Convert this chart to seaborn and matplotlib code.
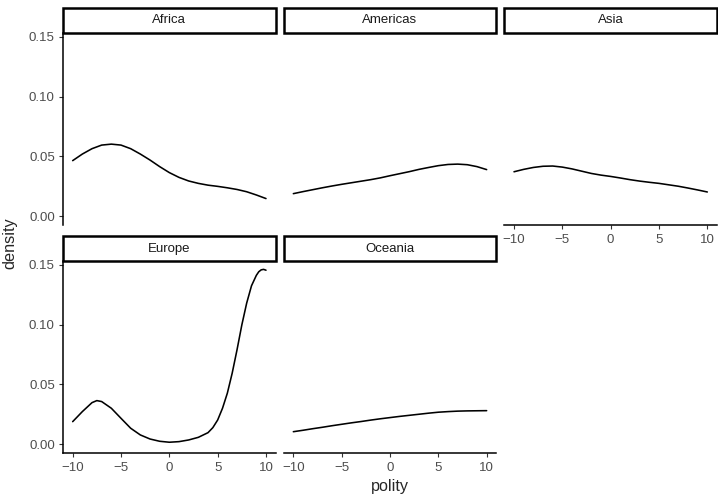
import numpy as np
import pandas as pd
import seaborn as sns
import matplotlib.pyplot as plt
from matplotlib.patches import Rectangle


REGIONS = ["Africa", "Americas", "Asia", "Europe", "Oceania"]
POLITY  = list(range(-10, 11))

AFRICA   = [0.0465, 0.0520, 0.0565, 0.0595, 0.0603, 0.0595, 0.0565, 0.0520, 0.0470, 0.0415, 0.0365,
            0.0325, 0.0295, 0.0275, 0.0260, 0.0250, 0.0238, 0.0224, 0.0205, 0.0178, 0.0148]
AMERICAS = [0.0189, 0.0206, 0.0222, 0.0238, 0.0253, 0.0267, 0.0280, 0.0293, 0.0306, 0.0321, 0.0339,
            0.0356, 0.0373, 0.0392, 0.0408, 0.0423, 0.0433, 0.0436, 0.0431, 0.0415, 0.0390]
ASIA     = [0.0372, 0.0392, 0.0408, 0.0418, 0.0420, 0.0411, 0.0396, 0.0377, 0.0358, 0.0344, 0.0333,
            0.0320, 0.0306, 0.0294, 0.0284, 0.0275, 0.0263, 0.0251, 0.0236, 0.0220, 0.0203]
OCEANIA  = [0.0105, 0.0117, 0.0130, 0.0142, 0.0155, 0.0167, 0.0179, 0.0190, 0.0202, 0.0213, 0.0223,
            0.0233, 0.0242, 0.0251, 0.0260, 0.0268, 0.0273, 0.0277, 0.0279, 0.0280, 0.0281]

EUROPE_POLITY = [-10, -9, -8, -7.5, -7, -6, -5, -4, -3, -2, -1, 0, 1, 2, 3, 4, 4.5,
                 5, 5.5, 6, 6.5, 7, 7.5, 8, 8.5, 9, 9.25, 9.5, 9.75, 10]
EUROPE        = [0.0189, 0.0273, 0.0348, 0.0365, 0.0357, 0.0301, 0.0217, 0.0134, 0.0078, 0.0044,
                 0.0025, 0.0017, 0.0022, 0.0036, 0.0058, 0.0097, 0.0139, 0.0203, 0.0301, 0.0427,
                 0.0594, 0.0789, 0.0998, 0.1180, 0.1325, 0.1412, 0.1442, 0.1458, 0.1462, 0.1455]

Y_TICKS = [0.00, 0.05, 0.10, 0.15]
Y_LABELS = ["0.00", "0.05", "0.10", "0.15"]
X_TICKS = [-10, -5, 0, 5, 10]


frames = []
for name, vals in [("Africa", AFRICA), ("Americas", AMERICAS), ("Asia", ASIA), ("Oceania", OCEANIA)]:
    frames.append(pd.DataFrame({"region": name, "polity": POLITY, "density": vals}))
frames.append(pd.DataFrame({"region": "Europe", "polity": EUROPE_POLITY, "density": EUROPE}))
df = pd.concat(frames, ignore_index=True)

sns.set_style("white")
plt.rcParams["font.family"] = ["Liberation Sans", "DejaVu Sans"]

g = sns.relplot(data=df, x="polity", y="density", col="region", col_wrap=3,
                col_order=REGIONS, kind="line", color="black", linewidth=1.15,
                errorbar=None, height=2, aspect=1.1)
g.figure.set_size_inches(7.18, 4.94)
g.set_titles("")
g.set_axis_labels("", "")
g.figure.subplots_adjust(left=63/718, right=717/718, bottom=1-453/494, top=1-33/494,
                         wspace=8/213, hspace=36/192)

# which axes are drawn, like facet_wrap
show_left   = {"Africa": True, "Americas": False, "Asia": False, "Europe": True, "Oceania": False}
show_bottom = {"Africa": False, "Americas": False, "Asia": True, "Europe": True, "Oceania": True}

for ax, name in zip(g.axes.flat, REGIONS):
    ax.set_xlim(-11, 11)
    ax.set_ylim(-0.0073, 0.1532)
    ax.set_xticks(X_TICKS)
    ax.set_yticks(Y_TICKS)
    ax.set_yticklabels(Y_LABELS)
    for side in ["top", "right"]:
        ax.spines[side].set_visible(False)
    ax.spines["left"].set_visible(show_left[name])
    ax.spines["bottom"].set_visible(show_bottom[name])
    for side in ["left", "bottom"]:
        ax.spines[side].set_color("black")
        ax.spines[side].set_linewidth(1.1)
    ax.tick_params(axis="x", bottom=show_bottom[name], labelbottom=show_bottom[name],
                   length=2.9, width=0.8, color="#333333", labelsize=9.5,
                   labelcolor="#4D4D4D", pad=3.3)
    ax.tick_params(axis="y", left=show_left[name], labelleft=show_left[name],
                   length=2.9, width=0.8, color="#333333", labelsize=9.5,
                   labelcolor="#4D4D4D", pad=3.0)
    for lab in ax.get_xticklabels():
        lab.set_visible(show_bottom[name])
    for lab in ax.get_yticklabels():
        lab.set_visible(show_left[name])

    # strip box on top
    h = 25 / 192
    ax.add_patch(Rectangle((0, 1), 1, h, transform=ax.transAxes, clip_on=False,
                           facecolor="white", edgecolor="black", linewidth=1.8))
    ax.text(0.5, 1 + h / 2, name, transform=ax.transAxes, ha="center", va="center",
            fontsize=9.5, color="#1A1A1A")

g.figure.text(390/718, 1 - 486/494, "polity", ha="center", va="center", fontsize=11.7)
g.figure.text(10/718, 1 - 243/494, "density", ha="center", va="center",
              rotation=90, fontsize=11.7)

plt.savefig("out.png", dpi=100)
